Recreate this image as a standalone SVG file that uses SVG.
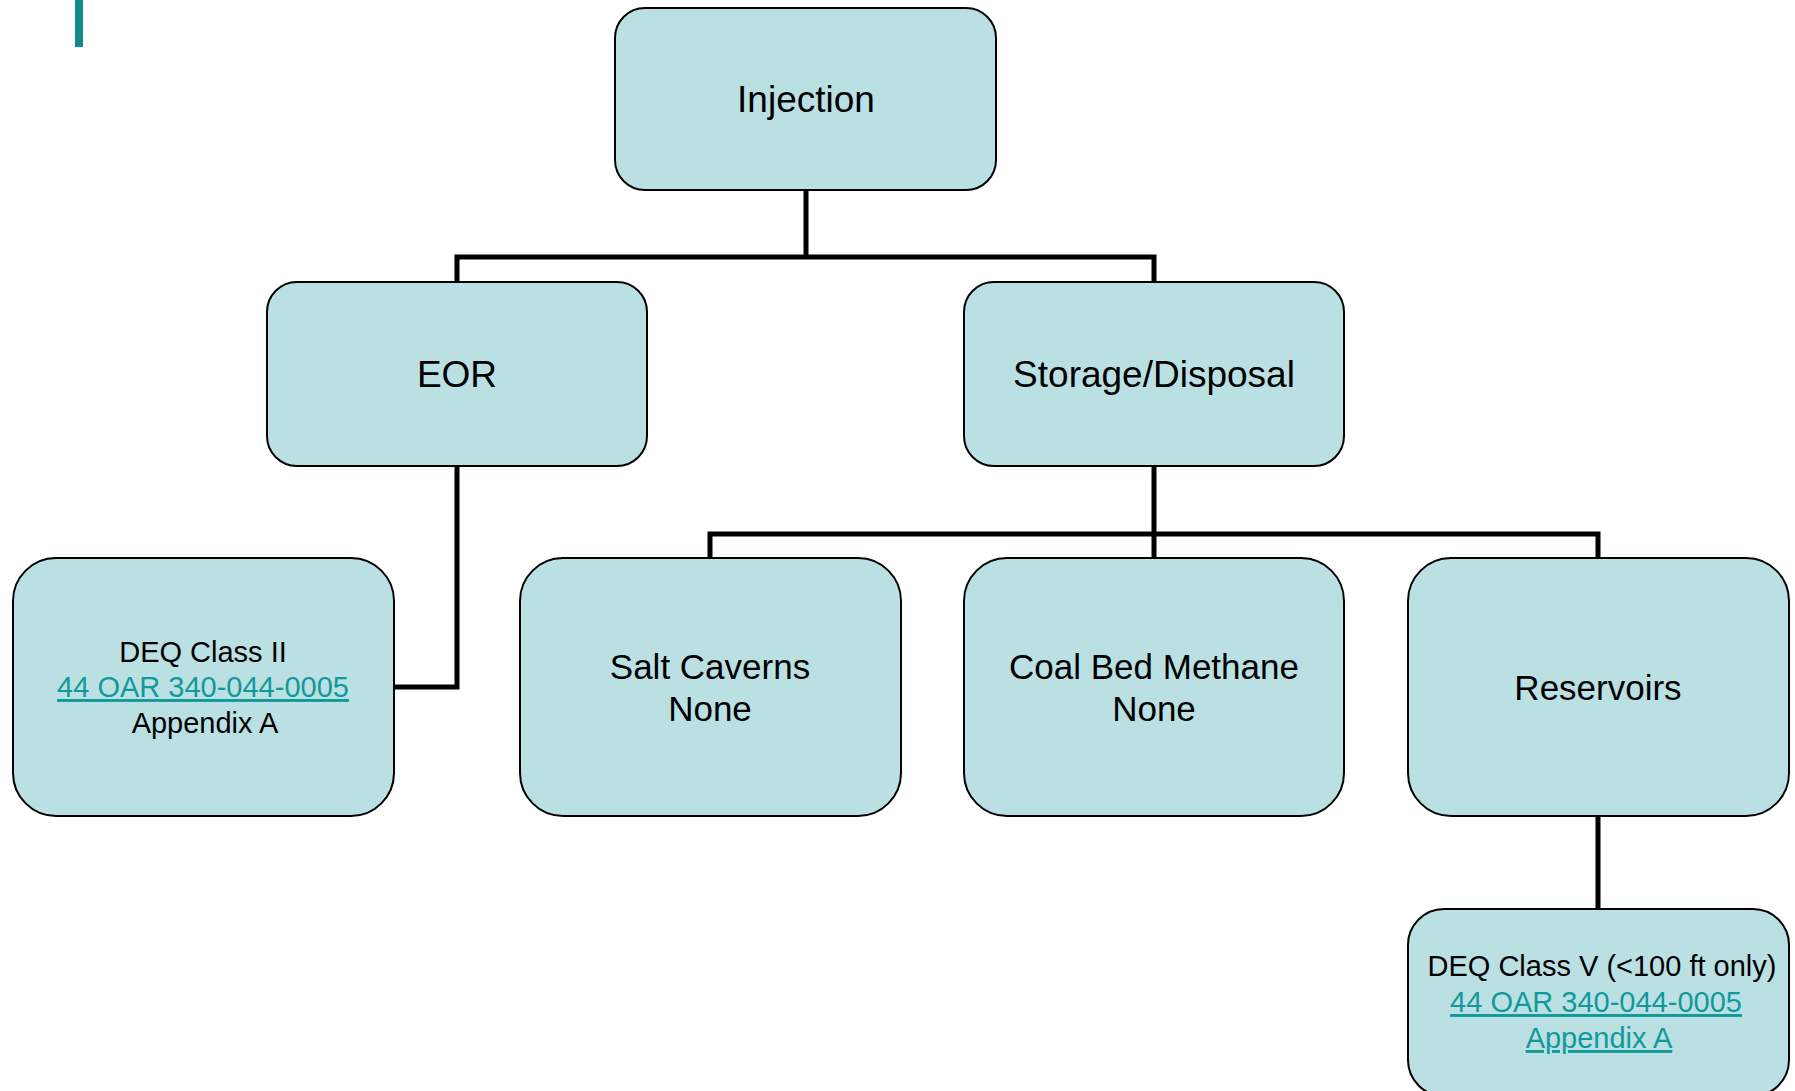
<svg xmlns="http://www.w3.org/2000/svg" width="1795" height="1091" viewBox="0 0 1795 1091">
<style>
.box{fill:#BBE0E3;stroke:#000;stroke-width:2}
.t{font-family:"Liberation Sans",Arial,sans-serif;fill:#000;text-anchor:middle}
.big{font-size:37px}
.mid{font-size:35px}
.sm{font-size:29px}
.lnk{fill:#109A9A;text-decoration:underline}
.conn{fill:none;stroke:#000;stroke-width:5;stroke-linejoin:miter}
</style>
<rect width="1795" height="1091" fill="#fff"/>
<rect x="75" y="0" width="8" height="47" fill="#0F8B88"/>
<g id="connectors">
<polyline class="conn" points="806,190 806,257"/>
<polyline class="conn" points="457,281 457,257 1154,257 1154,281"/>
<polyline class="conn" points="457,466 457,687 394,687"/>
<polyline class="conn" points="1154,466 1154,558"/>
<polyline class="conn" points="710,558 710,534 1598,534 1598,558"/>
<polyline class="conn" points="1598,816 1598,909"/>
</g>
<g id="injection">
<rect class="box" x="615" y="8" width="381" height="182" rx="30"/>
<text class="t big" x="806" y="112">Injection</text>
</g>
<g id="eor">
<rect class="box" x="267" y="282" width="380" height="184" rx="30"/>
<text class="t big" x="457" y="387">EOR</text>
</g>
<g id="storage">
<rect class="box" x="964" y="282" width="380" height="184" rx="30"/>
<text class="t big" x="1154" y="387">Storage/Disposal</text>
</g>
<g id="deq-class-ii">
<rect class="box" x="13" y="558" width="381" height="258" rx="43"/>
<text class="t sm" x="203" y="662">DEQ Class II</text>
<text class="t sm lnk" x="203" y="697">44 OAR 340-044-0005</text>
<text class="t sm" x="205" y="733">Appendix A</text>
</g>
<g id="salt-caverns">
<rect class="box" x="520" y="558" width="381" height="258" rx="43"/>
<text class="t mid" x="710" y="679">Salt Caverns</text>
<text class="t mid" x="710" y="721">None</text>
</g>
<g id="coal-bed-methane">
<rect class="box" x="964" y="558" width="380" height="258" rx="43"/>
<text class="t mid" x="1154" y="679">Coal Bed Methane</text>
<text class="t mid" x="1154" y="721">None</text>
</g>
<g id="reservoirs">
<rect class="box" x="1408" y="558" width="381" height="258" rx="43"/>
<text class="t mid" x="1598" y="700">Reservoirs</text>
</g>
<g id="deq-class-v">
<rect class="box" x="1408" y="909" width="381" height="187" rx="36"/>
<text class="t sm" x="1602" y="976">DEQ Class V (&lt;100 ft only)</text>
<text class="t sm lnk" x="1596" y="1012">44 OAR 340-044-0005</text>
<text class="t sm lnk" x="1599" y="1048">Appendix A</text>
</g>
</svg>
